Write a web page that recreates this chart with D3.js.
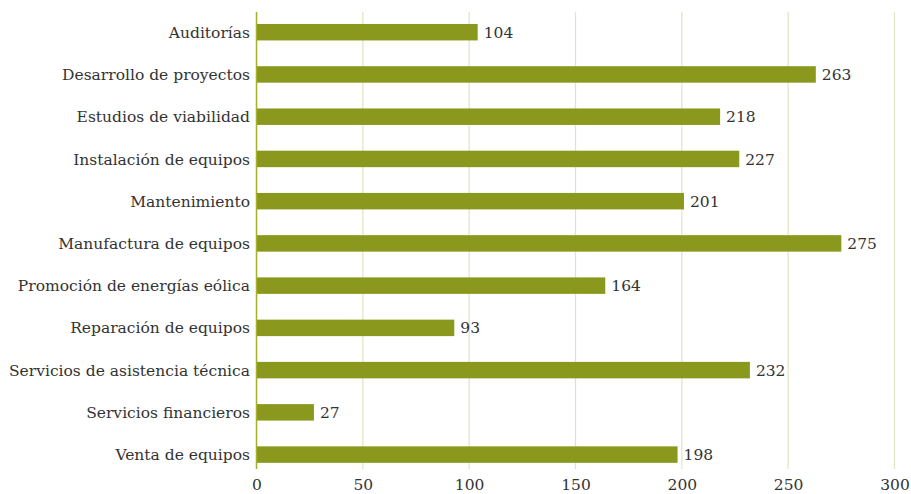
<!DOCTYPE html>
<html><head><meta charset="utf-8">
<script src="https://cdn.jsdelivr.net/npm/d3@7"></script>
<style>body{margin:0;background:#fff;} text{font-family:"DejaVu Serif",serif;}</style>
</head><body><svg id="c" width="911" height="494"></svg>
<script>
const categories = ["Auditorías","Desarrollo de proyectos","Estudios de viabilidad","Instalación de equipos","Mantenimiento","Manufactura de equipos","Promoción de energías eólica","Reparación de equipos","Servicios de asistencia técnica","Servicios financieros","Venta de equipos"];
const values = [104,263,218,227,201,275,164,93,232,27,198];
const ticks = [0,50,100,150,200,250,300];

const svg = d3.select("#c");
const x = d3.scaleLinear().domain([0,300]).range([256.5,894.5]);
const y = d3.scaleBand().domain(categories).range([11.3,475.5]).paddingInner(0.61).paddingOuter(0.3);
const plotTop = 12, plotBottom = 469;

svg.append("g").selectAll("line").data(ticks.slice(1)).join("line")
  .attr("x1",d=>x(d)).attr("x2",d=>x(d)).attr("y1",plotTop).attr("y2",plotBottom)
  .attr("stroke","#e0e4c4").attr("stroke-width",1.2);

svg.append("g").selectAll("rect").data(values).join("rect")
  .attr("x",x(0)).attr("y",(d,i)=>y(categories[i]))
  .attr("width",d=>x(d)-x(0)).attr("height",y.bandwidth())
  .attr("fill","#8a981e");

svg.append("line").attr("x1",x(0)).attr("x2",x(0)).attr("y1",plotTop).attr("y2",plotBottom)
  .attr("stroke","#a4b02c").attr("stroke-width",1.5);

svg.append("g").selectAll("text").data(values).join("text")
  .attr("x",d=>x(d)+6).attr("y",(d,i)=>y(categories[i])+y.bandwidth()/2)
  .attr("dy","0.36em").attr("font-size",15.5).attr("fill","#333").text(d=>d);

svg.append("g").selectAll("text").data(categories).join("text")
  .attr("x",250).attr("y",d=>y(d)+y.bandwidth()/2).attr("dy","0.36em")
  .attr("text-anchor","end").attr("font-size",15.5).attr("fill","#333").text(d=>d);

const xAxis = d3.axisBottom(x).tickValues(ticks).tickSize(0).tickPadding(0);
const gx = svg.append("g").call(xAxis);
gx.select(".domain").remove();
gx.selectAll("text").attr("font-size",15.5).attr("fill","#333").attr("font-family","DejaVu Serif, serif").attr("dy",null).attr("y",490);
</script></body></html>
